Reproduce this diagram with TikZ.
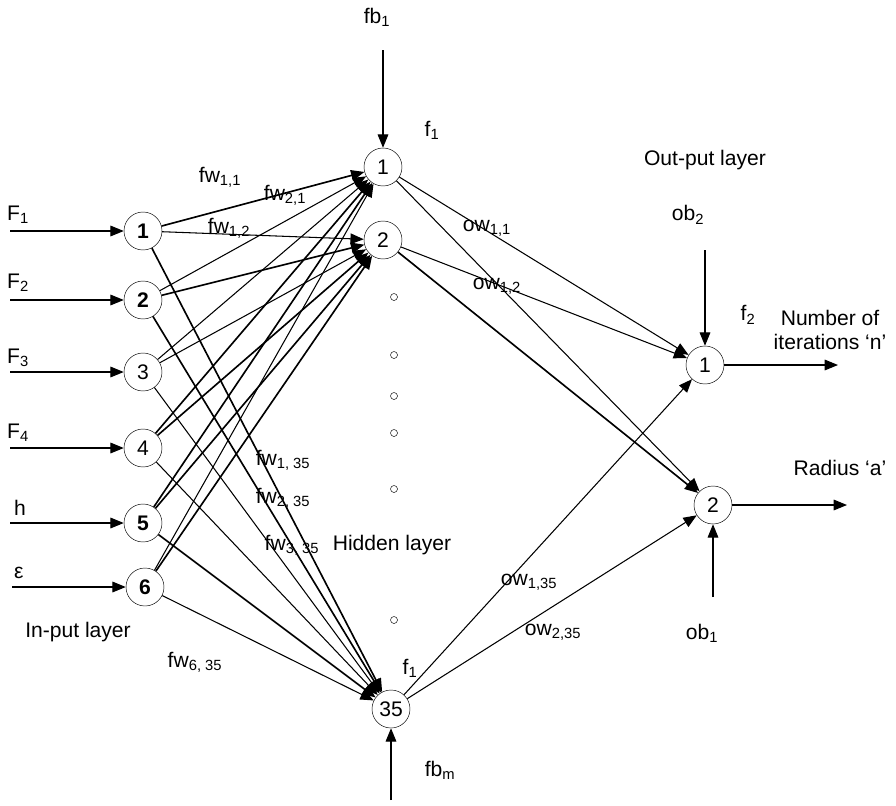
\documentclass[tikz,border=0pt]{standalone}
\usepackage{fontspec}
\setmainfont{Liberation Sans}
\usetikzlibrary{arrows.meta,positioning}

\begin{document}
\begin{tikzpicture}[
    x=0.03cm, y=-0.03cm,
    neuron/.style={draw, circle, minimum size=1.14cm, inner sep=0pt, font=\fontsize{18}{20}\selectfont},
    dotnode/.style={draw, circle, minimum size=0.21cm, inner sep=0pt},
    lbl/.style={font=\fontsize{18}{21}\selectfont, inner sep=0pt, align=center},
    arrow/.style={-{Triangle[length=4mm, width=3.2mm]}, line width=0.9pt},
    heavy/.style={line width=1.4pt}
  ]
    \useasboundingbox (0,0) rectangle (896,805);

    % input layer
    \node[neuron] (i1) at (143,231) {\textbf{1}};
    \node[neuron] (i2) at (143,300) {\textbf{2}};
    \node[neuron] (i3) at (143,372) {3};
    \node[neuron] (i4) at (143,448) {4};
    \node[neuron] (i5) at (143,523) {\textbf{5}};
    \node[neuron] (i6) at (145,587) {\textbf{6}};

    % hidden layer
    \node[neuron] (h1) at (383,167) {1};
    \node[neuron] (h2) at (383,240) {2};
    \node[neuron] (h35) at (391,709) {35};
    \foreach \y/\n in {297/a, 355/b, 396/c, 433/d, 489/e, 620/f}
      \node[dotnode] (dot\n) at (394,\y) {};

    % output layer
    \node[neuron] (o1) at (705,365) {1};
    \node[neuron] (o2) at (713,505) {2};

    % free ends
    \coordinate (in1) at (10,231);
    \coordinate (in2) at (10,300);
    \coordinate (in3) at (10,372);
    \coordinate (in4) at (10,448);
    \coordinate (in5) at (10,523);
    \coordinate (in6) at (12,587);
    \coordinate (fbtop) at (383,50);
    \coordinate (fbbot) at (391,800);
    \coordinate (obtop) at (705,250);
    \coordinate (obbot) at (713,597);
    \coordinate (out1) at (838,365);
    \coordinate (out2) at (847,505);

    % inputs
    \foreach \k in {1,...,6}
      \draw[arrow] (in\k) -- (i\k);
    \draw[arrow] (fbtop) -- (h1);
    \draw[arrow] (fbbot) -- (h35);
    \draw[arrow] (obtop) -- (o1);
    \draw[arrow] (obbot) -- (o2);
    \draw[arrow] (o1) -- (out1);
    \draw[arrow] (o2) -- (out2);

    % input -> hidden
    \draw[arrow, heavy] (i1) -- (h1);
    \draw[arrow] (i1) -- (h2);
    \draw[arrow, heavy] (i1) -- (h35);
    \draw[arrow] (i2) -- (h1);
    \draw[arrow, heavy] (i2) -- (h2);
    \draw[arrow, heavy] (i2) -- (h35);
    \draw[arrow] (i3) -- (h1);
    \draw[arrow] (i3) -- (h2);
    \draw[arrow] (i3) -- (h35);
    \draw[arrow, heavy] (i4) -- (h1);
    \draw[arrow, heavy] (i4) -- (h2);
    \draw[arrow] (i4) -- (h35);
    \draw[arrow, heavy] (i5) -- (h1);
    \draw[arrow, heavy] (i5) -- (h2);
    \draw[arrow, heavy] (i5) -- (h35);
    \draw[arrow] (i6) -- (h1);
    \draw[arrow, heavy] (i6) -- (h2);
    \draw[arrow] (i6) -- (h35);

    % hidden -> output
    \draw[arrow] (h1) -- (o1);
    \draw[arrow] (h1) -- (o2);
    \draw[arrow] (h2) -- (o1);
    \draw[arrow, heavy] (h2) -- (o2);
    \draw[arrow] (h35) -- (o1);
    \draw[arrow] (h35) -- (o2);

    % labels
    \node[lbl, anchor=west] (lF1) at (7,215) {F\textsubscript{1}};
    \node[lbl, anchor=west] (lF2) at (7,283) {F\textsubscript{2}};
    \node[lbl, anchor=west] (lF3) at (7,358) {F\textsubscript{3}};
    \node[lbl, anchor=west] (lF4) at (7,433) {F\textsubscript{4}};
    \node[lbl, anchor=west] (lh) at (14,508) {h};
    \node[lbl, anchor=west] (leps) at (14,573) {ε};
    \node[lbl] (linput) at (78,632) {In-put layer};
    \node[lbl] (lhidden) at (392,545) {Hidden layer};
    \node[lbl] (loutput) at (705,160) {Out-put layer};
    \node[lbl] (lfb1) at (377,17) {fb\textsubscript{1}};
    \node[lbl] (lfbm) at (440,770) {fb\textsubscript{m}};
    \node[lbl] (lf1a) at (432,130) {f\textsubscript{1}};
    \node[lbl] (lf1b) at (410,668) {f\textsubscript{1}};
    \node[lbl] (lob2) at (688,215) {ob\textsubscript{2}};
    \node[lbl] (lob1) at (702,633) {ob\textsubscript{1}};
    \node[lbl] (lf2) at (748,315) {f\textsubscript{2}};
    \node[lbl] (lniter) at (830,330) {Number of\\iterations `n'};
    \node[lbl] (lradius) at (840,468) {Radius `a'};
    \node[lbl] (lw11) at (220,177) {fw\textsubscript{1,1}};
    \node[lbl] (lw21) at (285,195) {fw\textsubscript{2,1}};
    \node[lbl] (lw12) at (229,228) {fw\textsubscript{1,2}};
    \node[lbl] (lw135) at (283,460) {fw\textsubscript{1, 35}};
    \node[lbl] (lw235) at (283,498) {fw\textsubscript{2, 35}};
    \node[lbl] (lw335) at (292,545) {fw\textsubscript{3, 35}};
    \node[lbl] (lw635) at (195,662) {fw\textsubscript{6, 35}};
    \node[lbl] (lo11) at (487,228) {ow\textsubscript{1,1}};
    \node[lbl] (lo12) at (497,286) {ow\textsubscript{1,2}};
    \node[lbl] (lo135) at (529,582) {ow\textsubscript{1,35}};
    \node[lbl] (lo235) at (553,632) {ow\textsubscript{2,35}};
  \end{tikzpicture}
\end{document}
